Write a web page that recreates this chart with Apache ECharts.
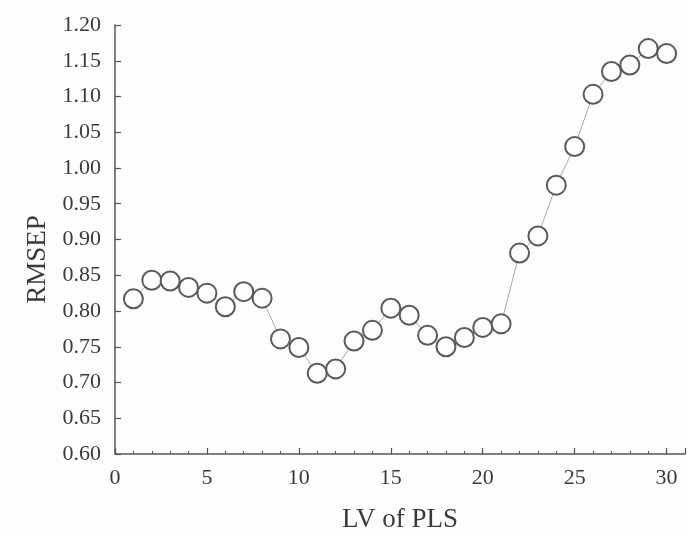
<!DOCTYPE html>
<html><head><meta charset="utf-8">
<script src="https://cdn.jsdelivr.net/npm/echarts@6/dist/echarts.min.js"></script>
<style>html,body{margin:0;padding:0;background:#fdfdfb;}#c{width:688px;height:535px;}</style>
</head><body><div id="c"></div>
<script>
const lvs = [1,2,3,4,5,6,7,8,9,10,11,12,13,14,15,16,17,18,19,20,21,22,23,24,25,26,27,28,29,30];
const rmsep = [0.817,0.843,0.842,0.833,0.825,0.806,0.827,0.818,0.761,0.749,0.713,0.719,0.758,0.773,0.804,0.794,0.766,0.750,0.763,0.777,0.782,0.881,0.905,0.976,1.030,1.103,1.135,1.144,1.167,1.160];
const yTicks = ['0.60','0.65','0.70','0.75','0.80','0.85','0.90','0.95','1.00','1.05','1.10','1.15','1.20'];
const xTicks = ['0','5','10','15','20','25','30'];

const font = 'Liberation Serif';
const axisColor = '#555';
const textColor = '#3a3a3a';
const chart = echarts.init(document.getElementById('c'));
chart.setOption({
  backgroundColor: '#fdfdfb',
  animation: false,
  grid: {left: 115, right: 3, top: 25, bottom: 81, outerBoundsMode: 'none', containLabel: false},
  xAxis: {
    type: 'value', min: 0, max: 31, interval: 5,
    name: 'LV of PLS', nameLocation: 'middle', nameGap: 52,
    nameTextStyle: {fontFamily: font, fontSize: 27, color: textColor},
    axisLine: {show: true, lineStyle: {color: axisColor, width: 1.5}},
    axisTick: {show: true, inside: true, length: 6, lineStyle: {color: axisColor, width: 1.2}},
    minorTick: {show: true, splitNumber: 5, length: 3, lineStyle: {color: axisColor}},
    splitLine: {show: false},
    axisLabel: {
      fontFamily: font, fontSize: 22, color: textColor, margin: 13, showMaxLabel: false,
      formatter: v => xTicks.includes(String(v)) ? String(v) : ''
    }
  },
  yAxis: {
    type: 'value', min: 0.6, max: 1.2, interval: 0.05,
    name: 'RMSEP', nameLocation: 'middle', nameGap: 64, nameRotate: 90,
    nameTextStyle: {fontFamily: font, fontSize: 27, color: textColor, padding: [0, 40, 0, 0]},
    axisLine: {show: true, lineStyle: {color: axisColor, width: 1.5}},
    axisTick: {show: true, inside: true, length: 6, lineStyle: {color: axisColor, width: 1.2}},
    splitLine: {show: false},
    axisLabel: {
      fontFamily: font, fontSize: 22, color: textColor, margin: 14,
      formatter: v => yTicks[Math.round((v - 0.6) / 0.05)]
    }
  },
  series: [{
    type: 'line',
    data: lvs.map((x, i) => [x, rmsep[i]]),
    symbol: 'circle', symbolSize: 19,
    lineStyle: {color: '#aaa', width: 1},
    itemStyle: {color: '#fdfdfb', borderColor: '#5a5a5a', borderWidth: 2}
  }]
});
</script></body></html>
